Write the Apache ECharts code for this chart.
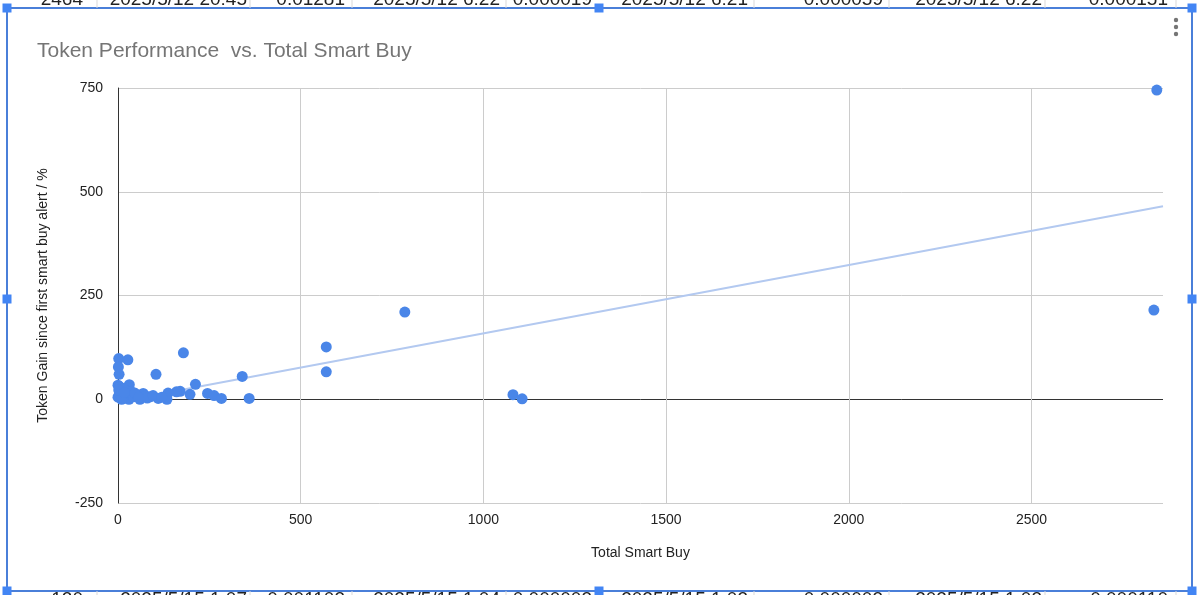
<!DOCTYPE html>
<html>
<head>
<meta charset="utf-8">
<script src="https://cdn.jsdelivr.net/npm/echarts@6/dist/echarts.min.js"></script>
<style>
  html, body { margin: 0; padding: 0; background: #fff; }
  #main { width: 1200px; height: 595px; }
</style>
</head>
<body>
<div id="main"></div>
<script>
// Total Smart Buy (x) and Token Gain % (y)
const smartBuy = [2843, 2835, 785, 570, 570, 340, 179, 212, 197, 170, 245, 263, 283, 359, 1081, 1106,
  2, 27, 1, 3, 104, 31, 0, 160, 137, 134, 69, 110, 51, 19, 5, 37, 88, 60, 30,
  0, 4, 8, 12, 15, 22, 25, 42, 46, 75, 80, 96, 120, 10, 56, 2, 17];
const tokenGain = [745, 215, 210, 126, 66, 55, 112, 36, 12, 19, 14, 9, 2, 2, 11, 1,
  98, 95, 78, 60, 60, 35, 34, 18, 15, 0, 14, 2, 10, 22, 30, 18, 6, 0, 0,
  5, 14, 3, 8, 26, 12, 4, 6, 15, 8, 3, 9, 5, 0, 4, 22, 16];

// trendline ends as drawn
const trendX = [0, 2860];
const trendY = [-6, 465];

const xTickLabels = [0, 500, 1000, 1500, 2000, 2500];
const yTickLabels = [-250, 0, 250, 500, 750];

// spreadsheet cells peeking above and below the chart
const topRowText = ["2464", "2025/5/12 20:45", "0.01281", "2025/5/12 6:22", "0.000019", "2025/5/12 6:21", "0.000059", "2025/5/12 6:22", "0.000151"];
const bottomRowText = ["120", "2025/5/15 1:07", "0.001103", "2025/5/15 1:04", "0.000003", "2025/5/15 1:03", "0.000003", "2025/5/15 1:03", "0.000110"];
const cellRight = [83, 247, 345, 500, 592, 748, 883, 1042, 1168];
const cellBorders = [97, 250, 352, 506, 754, 889, 1045, 1176];

const points = smartBuy.map((x, i) => [x, tokenGain[i]]);
const trend = trendX.map((x, i) => [x, trendY[i]]);

const chart = echarts.init(document.getElementById("main"));

const FONT = "Arial, 'Liberation Sans', sans-serif";
const BLUE = "#4a7fd9";

const graphics = [];
cellBorders.forEach((x) => {
  graphics.push({ type: "line", shape: { x1: x, y1: 0, x2: x, y2: 8 }, style: { stroke: "#d9d9d9", lineWidth: 1 }, silent: true });
  graphics.push({ type: "line", shape: { x1: x, y1: 591, x2: x, y2: 595 }, style: { stroke: "#d9d9d9", lineWidth: 1 }, silent: true });
});
topRowText.forEach((t, i) => {
  graphics.push({ type: "text", x: cellRight[i], y: 0, style: { text: t, font: "19px " + FONT, fill: "#222", align: "right", verticalAlign: "middle" }, silent: true });
});
bottomRowText.forEach((t, i) => {
  graphics.push({ type: "text", x: cellRight[i], y: 600, style: { text: t, font: "19px " + FONT, fill: "#222", align: "right", verticalAlign: "middle" }, silent: true });
});
// chart frame (selected)
graphics.push({ type: "rect", shape: { x: 7, y: 8, width: 1185, height: 583 }, style: { fill: "#fff", stroke: BLUE, lineWidth: 2 }, z: -10, silent: true });
[[7, 8], [599, 8], [1192, 8], [7, 299], [1192, 299], [7, 591], [599, 591], [1192, 591]].forEach((p) => {
  graphics.push({ type: "rect", shape: { x: p[0] - 4.5, y: p[1] - 4.5, width: 9, height: 9 }, style: { fill: "#4285f4" }, z: 10, silent: true });
});
// menu dots
[20, 27, 34].forEach((y) => {
  graphics.push({ type: "circle", shape: { cx: 1176, cy: y, r: 2.2 }, style: { fill: "#757575" }, silent: true });
});

const option = {
  backgroundColor: "#fff",
  animation: false,
  title: {
    text: "Token Performance  vs. Total Smart Buy",
    left: 32,
    top: 36,
    textStyle: { fontFamily: FONT, fontSize: 21, fontWeight: "normal", color: "#757575" },
  },
  graphic: graphics,
  grid: { left: 118, right: 37, top: 88, bottom: 92 },
  xAxis: {
    type: "value",
    min: 0,
    max: 2860,
    interval: 500,
    name: "Total Smart Buy",
    nameLocation: "middle",
    nameGap: 43,
    nameTextStyle: { fontFamily: FONT, fontSize: 14, color: "#222" },
    axisLine: { show: false },
    axisTick: { show: false },
    axisLabel: {
      margin: 10,
      fontFamily: FONT,
      fontSize: 14,
      color: "#222",
      showMaxLabel: false,
      formatter: (v) => (xTickLabels.includes(v) ? String(v) : ""),
    },
    splitLine: { show: true, showMaxLine: false, lineStyle: { color: "#cccccc", width: 1 } },
  },
  yAxis: {
    type: "value",
    min: -250,
    max: 750,
    interval: 250,
    name: "Token Gain since first smart buy alert / %",
    nameLocation: "middle",
    nameGap: 68,
    nameTextStyle: { fontFamily: FONT, fontSize: 14, color: "#222" },
    axisLine: { show: true, onZero: false, lineStyle: { color: "#333", width: 1 } },
    axisTick: { show: false },
    axisLabel: {
      margin: 15,
      fontFamily: FONT,
      fontSize: 14,
      color: "#222",
      formatter: (v) => (yTickLabels.includes(v) ? String(v) : ""),
    },
    splitLine: {
      show: true,
      lineStyle: { color: ["#cccccc", "#333333", "#cccccc", "#cccccc", "#cccccc"], width: 1 },
    },
  },
  series: [
    {
      name: "Trendline",
      type: "line",
      data: trend,
      symbol: "none",
      lineStyle: { color: "#b3c9f0", width: 2 },
      z: 2,
      silent: true,
    },
    {
      name: "Token Gain",
      type: "scatter",
      data: points,
      symbolSize: 11,
      itemStyle: { color: "#4a86e8", opacity: 1 },
      z: 3,
    },
  ],
};

chart.setOption(option);
</script>
</body>
</html>
